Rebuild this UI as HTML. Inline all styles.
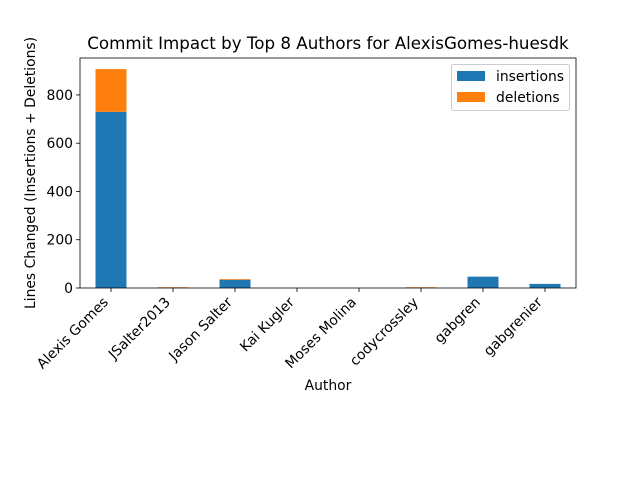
<!DOCTYPE html>
<html><head><meta charset="utf-8"><style>
body{margin:0;background:#fff;font-family:"DejaVu Sans","Liberation Sans",sans-serif;}
svg text{font-family:"DejaVu Sans","Liberation Sans",sans-serif;}
</style></head><body>
<svg id="chart" width="640" height="480"></svg>
<script>
const authors=["Alexis Gomes","JSalter2013","Jason Salter","Kai Kugler","Moses Molina","codycrossley","gabgren","gabgrenier"];
const insertions=[730,0,34,0,0,0,47,17];
const deletions=[177,3,3,0,0,3,0,0];
const yTicks=[0,200,400,600,800];
const NS="http://www.w3.org/2000/svg";
const svg=document.getElementById('chart');
const L=80,R=576,T=58,B=288,yMax=953;
const y=v=>B-(v/yMax)*(B-T);
const step=(R-L)/authors.length;
const x=i=>L+step*(i+0.5);
function mk(t,a,p){const e=document.createElementNS(NS,t);for(const k in a)e.setAttribute(k,a[k]);(p||svg).appendChild(e);return e;}
authors.forEach((a,i)=>{
 const w=step/2;
 const b1=mk('rect',{x:x(i)-w/2,y:y(insertions[i]),width:w,height:B-y(insertions[i]),fill:'#1f77b4'});
 
 
 const b2=mk('rect',{x:x(i)-w/2,y:y(insertions[i]+deletions[i]),width:w,height:y(insertions[i])-y(insertions[i]+deletions[i]),fill:'#ff7f0e'});
 
 
 mk('line',{x1:x(i),x2:x(i),y1:B,y2:B+4,stroke:'#000','stroke-width':0.8});
 const ax=x(i)-2,ay=B+15;
 const t=mk('text',{x:ax,y:ay,'font-size':13.9,'text-anchor':'end',transform:`rotate(-45 ${ax} ${ay})`});
 t.textContent=a;
 
 
});
yTicks.forEach(v=>{
 mk('line',{x1:L-4,x2:L,y1:y(v),y2:y(v),stroke:'#000','stroke-width':0.8});
 const t=mk('text',{x:L-7,y:y(v)+5,'font-size':13.9,'text-anchor':'end'});
 t.textContent=v;
 
 
});
mk('rect',{x:L,y:T,width:R-L,height:B-T,fill:'none',stroke:'#000','stroke-width':0.8});
</script>
<svg width="640" height="480" style="position:absolute;left:0;top:0">
<text x="328" y="49" font-size="16.7" text-anchor="middle">Commit Impact by Top 8 Authors for AlexisGomes-huesdk</text>
<text x="328" y="390" font-size="13.9" text-anchor="middle">Author</text>
<text x="35" y="173" font-size="13.9" text-anchor="middle" transform="rotate(-90 35 173)">Lines Changed (Insertions + Deletions)</text>
<g>
<rect x="451.5" y="64.5" width="118" height="46" fill="#fff" stroke="#ccc" rx="2"/>
<rect x="457" y="71" width="28" height="10" fill="#1f77b4"/>
<text x="496" y="81" font-size="13.9">insertions</text>
<rect x="457" y="92" width="28" height="10" fill="#ff7f0e"/>
<text x="496" y="102" font-size="13.9">deletions</text>
</g>
</svg>
</body></html>
